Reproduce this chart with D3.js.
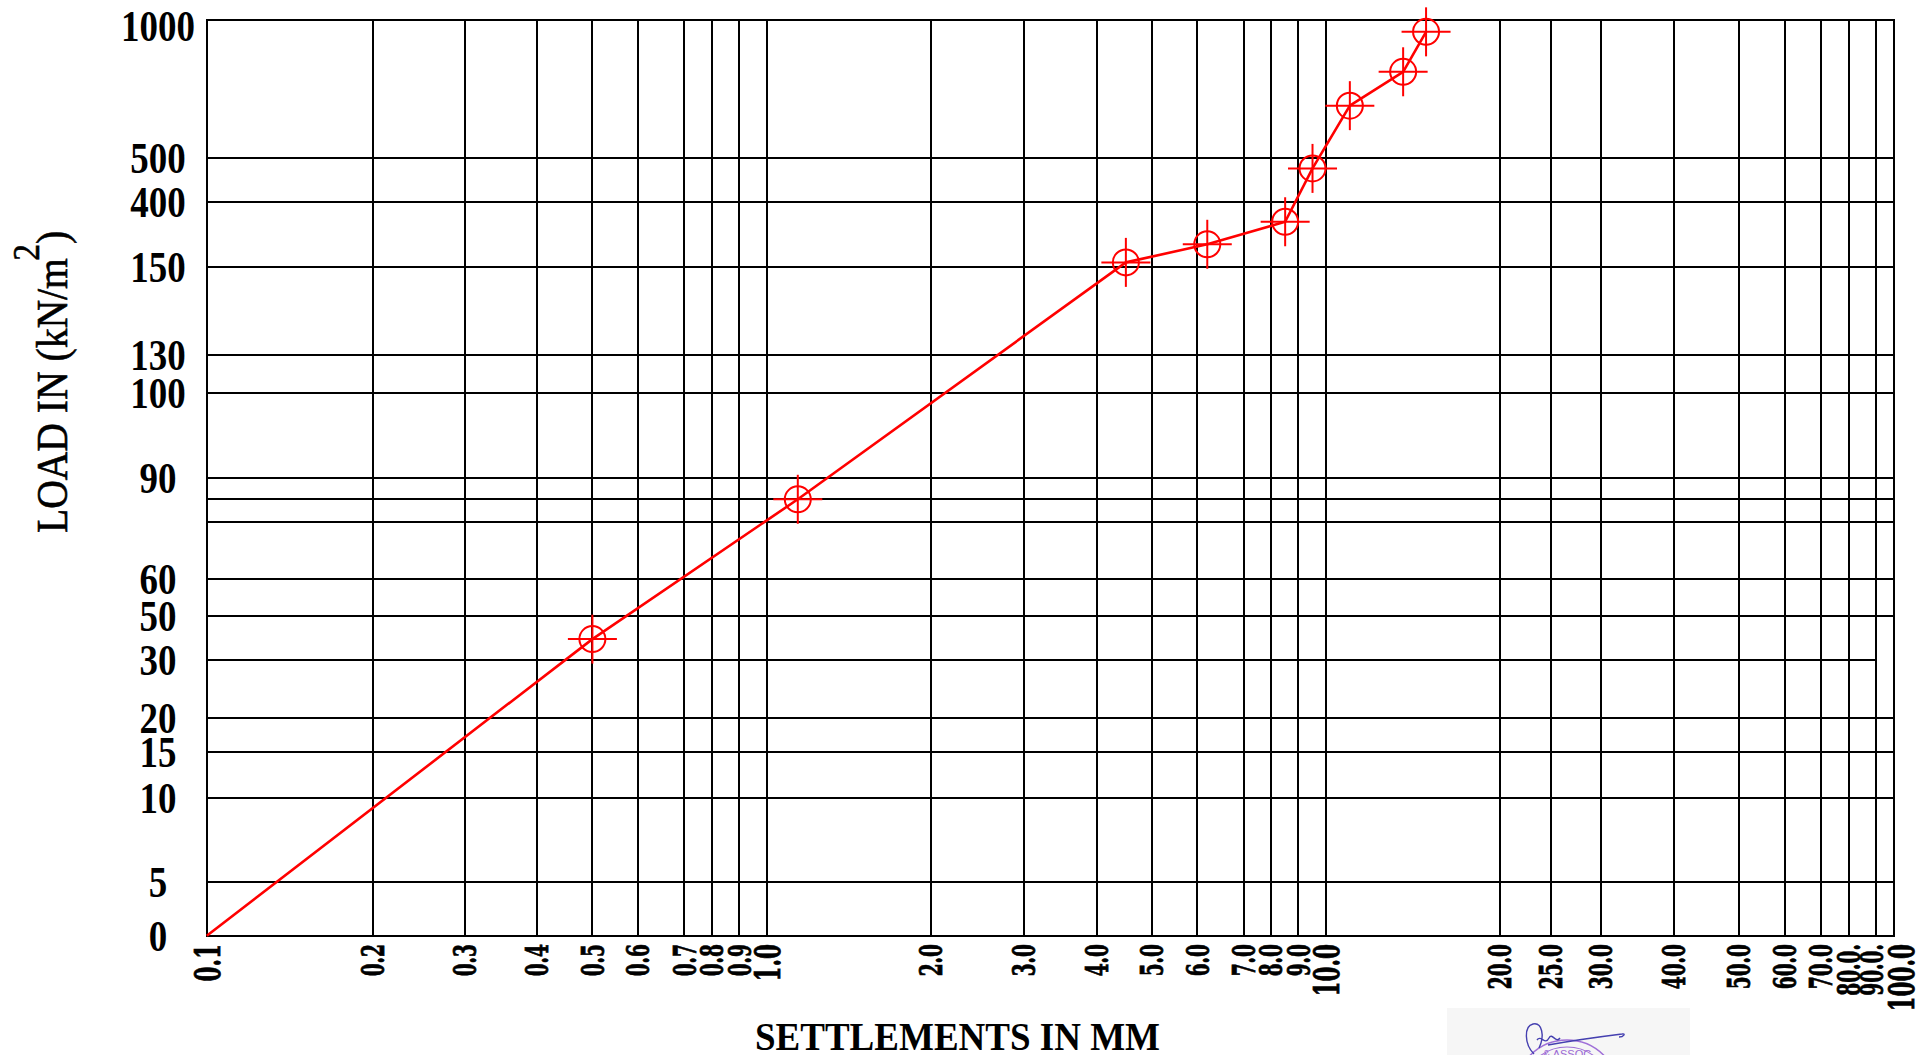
<!DOCTYPE html>
<html><head><meta charset="utf-8">
<script src="https://cdn.jsdelivr.net/npm/d3@7"></script>
<style>html,body{margin:0;padding:0;background:#fff;overflow:hidden}svg{display:block}</style>
</head><body>
<script>
// ---------------- data ----------------
const settlement = [0.1, 0.5, 1.14, 4.5, 6.2, 8.5, 9.5, 11.0, 13.6, 14.9];
const load       = [0, 39.5, 80, 169, 238.5, 325, 476, 689, 812, 957];

const xTickValues = [0.1,0.2,0.3,0.4,0.5,0.6,0.7,0.8,0.9,1,2,3,4,5,6,7,8,9,10,20,25,30,40,50,60,70,80,90,100];
const xTickLabels = ["0.1","0.2","0.3","0.4","0.5","0.6","0.7","0.8","0.9","1.0","2.0","3.0","4.0","5.0","6.0","7.0","8.0","9.0","10.0","20.0","25.0","30.0","40.0","50.0","60.0","70.0","80.0.","90.0.","100.0"];
const yGridValues = [0,5,10,15,20,30,50,60,70,80,90,100,130,150,400,500,1000];
const yTickLabels = ["0","5","10","15","20","30","50","60","","","90","100","130","150","400","500","1000"];

// ---------------- layout: calibration of the printed (hand-ruled) grid ----------------
const xGridFrac = [0,0.09845,0.15292,0.19577,0.22854,0.25575,0.28307,0.29925,0.31567,0.33185,
  0.42935,0.48412,0.52756,0.56009,0.58718,0.61445,0.63081,0.64699,0.66329,
  0.76648,0.79647,0.82634,0.86978,0.90796,0.93522,0.95673,0.97315,0.98951,1];
const yGridFrac = [0,0.0589,0.1500,0.2001,0.2377,0.3011,0.3491,0.3891,0.4515,0.4766,0.4995,0.5927,0.6344,0.7299,0.8010,0.8496,1];

const Wd = 1930, Ht = 1055;
const L = 206.8, R = 1894, T = 20, B = 935.7;
const PW = R - L, PH = B - T;
const SERIF = "'Liberation Serif','Times New Roman',Times,serif";
const HEAVY = "'DejaVu Serif','Liberation Serif',serif";

const x = d3.scaleLinear().domain(xTickValues.map(Math.log10)).range(xGridFrac.map(f => L + f * PW));
const xPos = v => x(Math.log10(v));
const y = d3.scaleLinear().domain(yGridValues).range(yGridFrac.map(f => B - f * PH));

const svg = d3.select("body").append("svg").attr("width", Wd).attr("height", Ht)
  .style("background", "#fff");

// stamp background + signature (decoration)
const sig = svg.append("g");
sig.append("rect").attr("x", 1447).attr("y", 1008).attr("width", 243).attr("height", 47).attr("fill", "#f6f6f6");
sig.append("circle").attr("cx", 1567).attr("cy", 1092).attr("r", 52).attr("fill", "none").attr("stroke", "#a070d8").attr("stroke-width", 1.6);
sig.append("circle").attr("cx", 1567).attr("cy", 1092).attr("r", 45).attr("fill", "none").attr("stroke", "#a070d8").attr("stroke-width", 1.2);
sig.append("text").attr("x", 1567).attr("y", 1058).attr("text-anchor", "middle")
  .attr("font-family", "'Liberation Sans',Arial,sans-serif").attr("font-size", 11).attr("fill", "#9a68d4")
  .text("& ASSOC");
sig.append("path").attr("d", "M1534,1054 C1524,1044 1524,1026 1533,1024 C1542,1022 1545,1036 1539,1048 M1537,1040 C1541,1034 1545,1046 1549,1038 C1552,1032 1556,1044 1560,1038 M1548,1045 C1570,1041 1598,1037 1622,1034 C1626,1033 1624,1037 1619,1037")
  .attr("fill", "none").attr("stroke", "#4540b0").attr("stroke-width", 1.4);

// grid
const grid = svg.append("g").attr("stroke", "#000").attr("stroke-width", 2).attr("shape-rendering", "crispEdges");
grid.selectAll("line.v").data(xTickValues).join("line").attr("class", "v")
  .attr("x1", d => xPos(d)).attr("x2", d => xPos(d)).attr("y1", T).attr("y2", B);
grid.selectAll("line.h").data(yGridValues).join("line").attr("class", "h")
  .attr("x1", L).attr("x2", d => d === 30 ? xPos(90) : R)
  .attr("y1", d => y(d)).attr("y2", d => y(d));
grid.append("rect").attr("x", L).attr("y", T).attr("width", PW).attr("height", PH)
  .attr("fill", "none").attr("stroke-width", 2.4);

// y tick labels
const yFS = 44;
svg.append("g").selectAll("text").data(yGridValues).join("text")
  .attr("transform", d => `translate(158,${Math.max(y(d), T + 6) + 0.338 * yFS}) scale(0.84,1)`)
  .attr("text-anchor", "middle")
  .attr("font-family", SERIF).attr("font-weight", "bold").attr("font-size", yFS).attr("fill", "#000")
  .text((d, i) => yTickLabels[i]);

// x tick labels (decade labels are printed larger; the two last labels are squeezed apart)
const isDecade = d => Math.abs(Math.log10(d) - Math.round(Math.log10(d))) < 1e-9;
const nudge = d => d === 100 ? 7 : d === 90 ? -4 : 0;
svg.append("g").selectAll("text").data(xTickValues).join("text")
  .attr("transform", d => `translate(${xPos(d) + nudge(d)},944) rotate(-90) scale(0.6,1)`)
  .attr("text-anchor", "end").attr("dy", "0.36em")
  .attr("font-family", HEAVY).attr("font-weight", "bold")
  .attr("font-size", d => isDecade(d) ? 36 : 31)
  .attr("fill", "#000").attr("stroke", "#000").attr("stroke-width", 0.8)
  .text((d, i) => xTickLabels[i]);

// axis titles
svg.append("text").attr("x", 957.5).attr("y", 1050).attr("text-anchor", "middle")
  .attr("font-family", SERIF).attr("font-weight", "bold").attr("font-size", 41).attr("fill", "#000")
  .attr("textLength", 405).attr("lengthAdjust", "spacingAndGlyphs")
  .text("SETTLEMENTS IN MM");

const yt = svg.append("text").attr("transform", "translate(67,533) rotate(-90) scale(0.88,1)")
  .attr("font-family", SERIF).attr("font-size", 45).attr("fill", "#000")
  .attr("stroke", "#000").attr("stroke-width", 0.6);
yt.append("tspan").text("LOAD IN (kN/m");
yt.append("tspan").attr("dx", -3).attr("dy", -28).attr("font-size", 38).text("2");
yt.append("tspan").attr("dy", 28).text(")");

// data line
const idx = d3.range(settlement.length);
svg.append("path").datum(idx)
  .attr("d", d3.line().x(i => xPos(settlement[i])).y(i => y(load[i])))
  .attr("fill", "none").attr("stroke", "#ff0000").attr("stroke-width", 2.6).attr("stroke-linejoin", "round");

// markers (circle + cross)
const mk = svg.append("g").attr("stroke", "#ff0000").attr("fill", "none").attr("stroke-width", 2);
const pts = idx.slice(1);
mk.selectAll("circle").data(pts).join("circle")
  .attr("cx", i => xPos(settlement[i])).attr("cy", i => y(load[i])).attr("r", 13);
mk.selectAll("line.hx").data(pts).join("line").attr("class", "hx")
  .attr("x1", i => xPos(settlement[i]) - 24.5).attr("x2", i => xPos(settlement[i]) + 24.5)
  .attr("y1", i => y(load[i])).attr("y2", i => y(load[i]));
mk.selectAll("line.vx").data(pts).join("line").attr("class", "vx")
  .attr("x1", i => xPos(settlement[i])).attr("x2", i => xPos(settlement[i]))
  .attr("y1", i => y(load[i]) - 24.5).attr("y2", i => y(load[i]) + 24.5);
</script>
</body></html>
